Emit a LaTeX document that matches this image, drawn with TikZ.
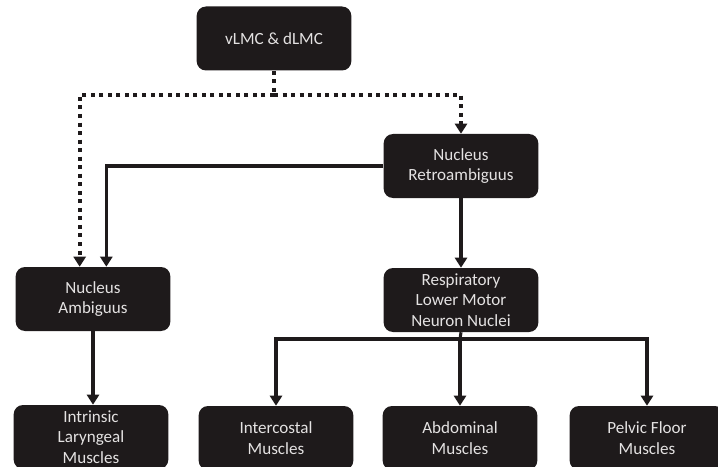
\documentclass[tikz,border=0pt]{standalone}
\usepackage{fontspec}
\setmainfont{Carlito}
\usetikzlibrary{arrows.meta,positioning}
\definecolor{BoxBlack}{HTML}{1E1A1B}
\definecolor{BoxText}{HTML}{E4E2E2}
\tikzset{
  nbox/.style={fill=BoxBlack,text=BoxText,rounded corners=7pt,
    minimum width=116pt,minimum height=48pt,align=center,inner sep=2pt,
    font=\fontsize{12.8}{15.5}\selectfont},
  link/.style={draw=BoxBlack,line width=2.3pt,
    -{Triangle[width=9pt,length=7.5pt]}},
  dotlink/.style={link,line width=3pt,dash pattern=on 3pt off 3.4pt}
}

\begin{document}
\begin{tikzpicture}[x=0.75pt,y=-0.75pt]
  \useasboundingbox (0,0) rectangle (718,467);

  \node[nbox] (lmc) at (274,38.5) {vLMC \& dLMC};
  \node[nbox] (nra) at (461,166) {Nucleus\\Retroambiguus};
  \node[nbox] (na) at (93,299) {Nucleus\\Ambiguus};
  \node[nbox] (resp) at (461,300) {Respiratory\\Lower Motor\\Neuron Nuclei};

  \node[nbox] (laryn) at (91,437) {Intrinsic\\Laryngeal\\Muscles};
  \node[nbox] (icost) at (276,438) {Intercostal\\Muscles};
  \node[nbox] (abdom) at (460,438) {Abdominal\\Muscles};
  \node[nbox] (pelvic) at (647,438) {Pelvic Floor\\Muscles};

  % dotted branch from the top box
  \coordinate (dsplit) at (274,95);
  \draw[dotlink,-] (lmc.south) -- (dsplit);
  \draw[dotlink] (dsplit) -| ([xshift=-10pt]na.north);
  \draw[dotlink] (dsplit) -| (nra.north);

  % solid paths
  \draw[link] (nra.west) -| ([xshift=10pt]na.north);
  \draw[link] (nra) -- (resp);
  \draw[link] (na) -- (na |- laryn.north);

  \coordinate (rsplit) at (460,339);
  \draw[link,-] (resp.south) -- (rsplit);
  \draw[link] (rsplit) -| (icost.north);
  \draw[link] (rsplit) -- (abdom.north);
  \draw[link] (rsplit) -| (pelvic.north);
\end{tikzpicture}
\end{document}
